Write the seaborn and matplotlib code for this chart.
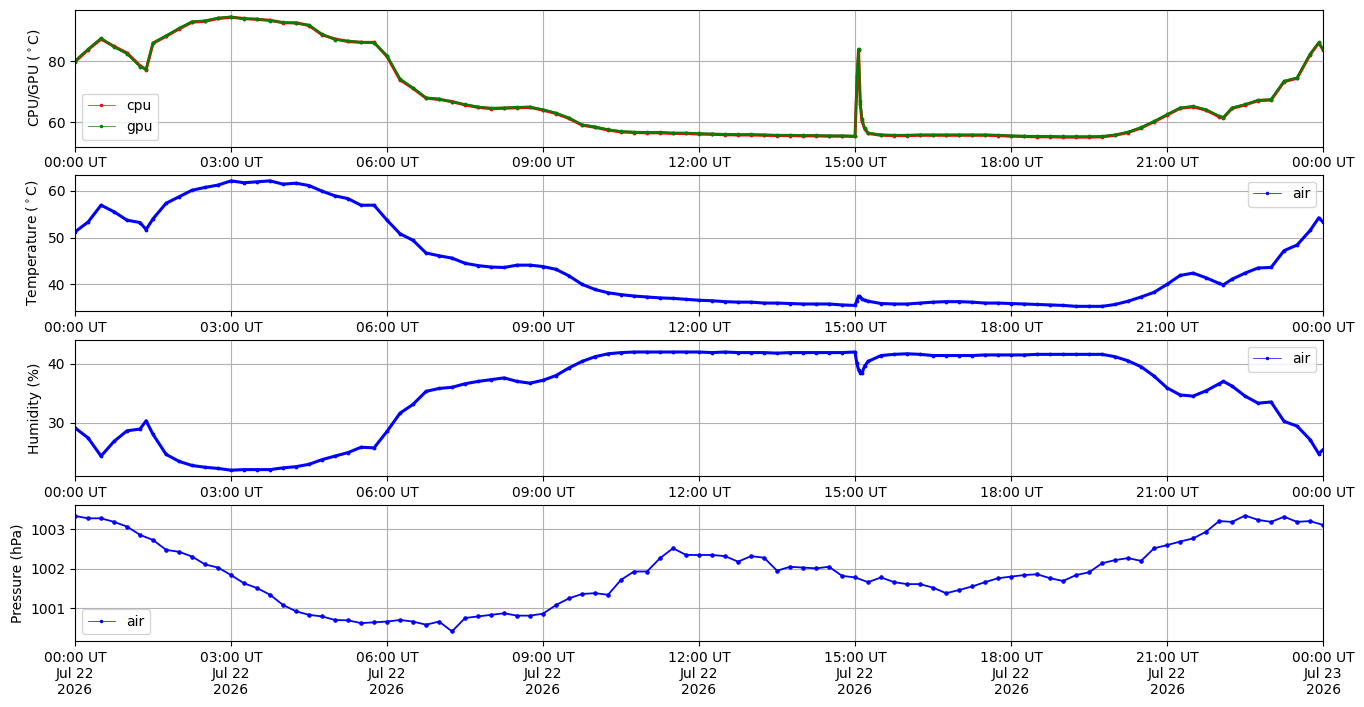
import matplotlib
matplotlib.use("Agg")
import matplotlib.pyplot as plt
import matplotlib.dates as mdates
from matplotlib.lines import Line2D
import seaborn as sns
import pandas as pd

# readings every 15 minutes, 2026-07-22 00:00 .. 2026-07-23 00:00
start = "2026-07-22 00:00"
end = "2026-07-23 00:00"

cpu = [79.8, 83.7, 87.2, 84.8, 82.6, 78.5, 85.8, 88.1,
       90.5, 92.7, 93.0, 93.9, 94.3, 93.9, 93.6, 93.3,
       92.5, 92.5, 91.6, 88.6, 87.2, 86.4, 86.1, 86.1,
       81.5, 73.9, 71.1, 67.9, 67.5, 66.8, 65.7, 64.9,
       64.5, 64.6, 64.8, 64.9, 64.0, 62.9, 61.3, 59.1,
       58.4, 57.5, 56.9, 56.7, 56.6, 56.6, 56.4, 56.4,
       56.2, 56.1, 56.0, 55.9, 55.9, 55.8, 55.7, 55.7,
       55.6, 55.6, 55.5, 55.5, 55.4, 56.4, 55.8, 55.7,
       55.7, 55.8, 55.8, 55.8, 55.8, 55.8, 55.8, 55.7,
       55.5, 55.4, 55.3, 55.3, 55.2, 55.2, 55.2, 55.3,
       55.8, 56.7, 58.2, 60.2, 62.4, 64.6, 65.1, 64.0,
       61.9, 64.6, 65.7, 67.1, 67.3, 73.3, 74.4, 82.1,
       83.7]
gpu = [80.1, 83.9, 87.5, 84.6, 82.4, 78.2, 86.0, 88.3,
       90.7, 92.9, 93.2, 94.1, 94.5, 93.7, 93.8, 93.2,
       92.7, 92.3, 91.8, 88.8, 87.0, 86.6, 86.2, 86.0,
       81.8, 74.2, 71.3, 68.1, 67.7, 66.6, 65.9, 65.1,
       64.7, 64.8, 65.0, 65.1, 64.2, 63.1, 61.5, 59.3,
       58.6, 57.7, 57.1, 56.9, 56.8, 56.8, 56.6, 56.6,
       56.4, 56.3, 56.2, 56.1, 56.1, 56.0, 55.9, 55.9,
       55.8, 55.8, 55.7, 55.7, 55.6, 56.6, 56.0, 55.9,
       55.9, 56.0, 56.0, 56.0, 56.0, 56.0, 56.0, 55.9,
       55.7, 55.6, 55.5, 55.5, 55.4, 55.4, 55.4, 55.5,
       56.0, 56.9, 58.4, 60.4, 62.6, 64.8, 65.3, 64.2,
       62.1, 64.8, 65.9, 67.3, 67.5, 73.5, 74.6, 82.3,
       83.9]
temp = [51.2, 53.3, 56.9, 55.5, 53.7, 53.2, 54.0, 57.3,
        58.7, 60.1, 60.7, 61.2, 62.1, 61.7, 61.9, 62.1,
        61.4, 61.6, 61.1, 59.9, 58.9, 58.3, 56.9, 56.9,
        53.7, 50.8, 49.4, 46.7, 46.1, 45.6, 44.5, 44.0,
        43.7, 43.6, 44.1, 44.1, 43.8, 43.2, 41.8, 40.0,
        38.9, 38.2, 37.8, 37.5, 37.3, 37.1, 37.0, 36.8,
        36.6, 36.5, 36.3, 36.2, 36.2, 36.0, 36.0, 35.9,
        35.8, 35.8, 35.8, 35.6, 35.5, 36.4, 35.9, 35.8,
        35.8, 36.0, 36.2, 36.3, 36.3, 36.2, 36.0, 36.0,
        35.9, 35.8, 35.7, 35.6, 35.5, 35.3, 35.3, 35.3,
        35.7, 36.4, 37.3, 38.3, 40.0, 41.9, 42.4, 41.4,
        40.2, 41.1, 42.4, 43.5, 43.6, 47.2, 48.4, 51.5,
        53.3]
hum = [29.1, 27.4, 24.3, 26.8, 28.6, 28.9, 28.0, 24.6,
       23.4, 22.7, 22.4, 22.2, 21.9, 22.0, 22.0, 22.0,
       22.3, 22.5, 22.9, 23.7, 24.3, 24.9, 25.8, 25.7,
       28.5, 31.6, 33.1, 35.3, 35.8, 36.0, 36.6, 37.0,
       37.3, 37.6, 37.0, 36.7, 37.2, 38.0, 39.3, 40.4,
       41.2, 41.7, 41.9, 42.0, 42.0, 42.0, 42.0, 42.0,
       42.0, 41.9, 42.0, 41.9, 41.9, 41.9, 41.8, 41.9,
       41.9, 41.9, 41.9, 41.9, 42.0, 40.4, 41.4, 41.6,
       41.7, 41.6, 41.4, 41.4, 41.4, 41.4, 41.5, 41.5,
       41.5, 41.5, 41.6, 41.6, 41.6, 41.6, 41.6, 41.6,
       41.2, 40.5, 39.5, 37.9, 35.9, 34.7, 34.5, 35.4,
       36.6, 36.2, 34.5, 33.3, 33.5, 30.2, 29.4, 27.1,
       25.4]
pres = [1003.34, 1003.28, 1003.28, 1003.19, 1003.07, 1002.86, 1002.73, 1002.48,
        1002.43, 1002.31, 1002.11, 1002.03, 1001.84, 1001.63, 1001.51, 1001.34,
        1001.08, 1000.92, 1000.83, 1000.79, 1000.70, 1000.69, 1000.62, 1000.64,
        1000.66, 1000.70, 1000.66, 1000.58, 1000.66, 1000.41, 1000.75, 1000.79,
        1000.83, 1000.87, 1000.81, 1000.81, 1000.86, 1001.08, 1001.25, 1001.36,
        1001.38, 1001.34, 1001.72, 1001.93, 1001.93, 1002.27, 1002.52, 1002.35,
        1002.35, 1002.35, 1002.32, 1002.18, 1002.32, 1002.28, 1001.95, 1002.05,
        1002.03, 1002.01, 1002.05, 1001.82, 1001.78, 1001.66, 1001.78, 1001.66,
        1001.61, 1001.61, 1001.52, 1001.38, 1001.46, 1001.55, 1001.66, 1001.76,
        1001.80, 1001.84, 1001.86, 1001.76, 1001.69, 1001.84, 1001.91, 1002.14,
        1002.22, 1002.27, 1002.20, 1002.52, 1002.60, 1002.69, 1002.77, 1002.94,
        1003.21, 1003.19, 1003.35, 1003.24, 1003.19, 1003.32, 1003.19, 1003.21,
        1003.11]

# extra readings around the short events
extra_times = ["2026-07-22 01:22", "2026-07-22 15:02", "2026-07-22 15:04",
               "2026-07-22 15:06", "2026-07-22 15:08", "2026-07-22 15:11",
               "2026-07-22 22:05", "2026-07-22 23:55"]
extra_cpu = [77.2, 72.0, 83.7, 66.0, 60.5, 58.0, 61.5, 85.9]
extra_gpu = [77.4, 75.0, 84.0, 67.0, 61.0, 58.2, 61.7, 86.1]
extra_temp = [51.7, 36.5, 37.5, 37.2, 36.9, 36.6, 39.9, 54.2]
extra_hum = [30.3, 40.1, 39.0, 38.5, 38.4, 39.6, 37.0, 24.7]


def legend_handle(color):
    return Line2D([], [], color=color, marker=".", markersize=3, linewidth=0.5)


def main():
    times = pd.date_range(start, end, freq="15min")
    df = pd.DataFrame({"time": times, "cpu": cpu, "gpu": gpu,
                       "temp": temp, "hum": hum})
    extra = pd.DataFrame({"time": pd.to_datetime(extra_times), "cpu": extra_cpu,
                          "gpu": extra_gpu, "temp": extra_temp, "hum": extra_hum})
    df = pd.concat([df, extra]).sort_values("time")
    dfp = pd.DataFrame({"time": times, "pres": pres})

    fig, axes = plt.subplots(4, 1, figsize=(13.64, 7.07), dpi=100)
    fig.subplots_adjust(left=0.055, right=0.970, top=0.986, bottom=0.093, hspace=0.206)

    # dense logger samples look like a thick band, so draw the sparse readings wide
    kw = dict(marker=".", markersize=4, linewidth=2.2, legend=False)

    ax = axes[0]
    sns.lineplot(data=df, x="time", y="cpu", color="red", mec="red", ax=ax, **kw)
    sns.lineplot(data=df, x="time", y="gpu", color="green", mec="green", ax=ax,
                 marker=".", markersize=4, linewidth=1.6, legend=False)
    ax.set_ylabel(r"CPU/GPU ($^\circ$C)")
    ax.set_ylim(52.1, 96.7)
    ax.legend([legend_handle("red"), legend_handle("green")], ["cpu", "gpu"], loc="lower left")

    ax = axes[1]
    sns.lineplot(data=df, x="time", y="temp", color="blue", mec="blue", ax=ax, **kw)
    ax.set_ylabel(r"Temperature ($^\circ$C)")
    ax.set_ylim(34.2, 63.4)
    ax.legend([legend_handle("blue")], ["air"], loc="upper right")

    ax = axes[2]
    sns.lineplot(data=df, x="time", y="hum", color="blue", mec="blue", ax=ax, **kw)
    ax.set_ylabel("Humidity (%)")
    ax.set_ylim(20.85, 44.1)
    ax.legend([legend_handle("blue")], ["air"], loc="upper right")

    ax = axes[3]
    sns.lineplot(data=dfp, x="time", y="pres", color="blue", mec="blue", ax=ax,
                 marker=".", markersize=5, linewidth=1.3, legend=False)
    ax.set_ylabel("Pressure (hPa)")
    ax.set_ylim(1000.16, 1003.63)
    ax.legend([legend_handle("blue")], ["air"], loc="lower left")

    for i, ax in enumerate(axes):
        ax.set_xlim(pd.Timestamp(start), pd.Timestamp(end))
        ax.set_xlabel("")
        ax.grid(True)
        ax.xaxis.set_major_locator(mdates.HourLocator(interval=3))
        if i < 3:
            ax.xaxis.set_major_formatter(mdates.DateFormatter("%H:%M UT"))
        else:
            ax.xaxis.set_major_formatter(mdates.DateFormatter("%H:%M UT\n%b %d\n%Y"))
            for lab in ax.get_xticklabels():
                lab.set_ha("center")

    fig.savefig("out.png")


if __name__ == "__main__":
    main()
